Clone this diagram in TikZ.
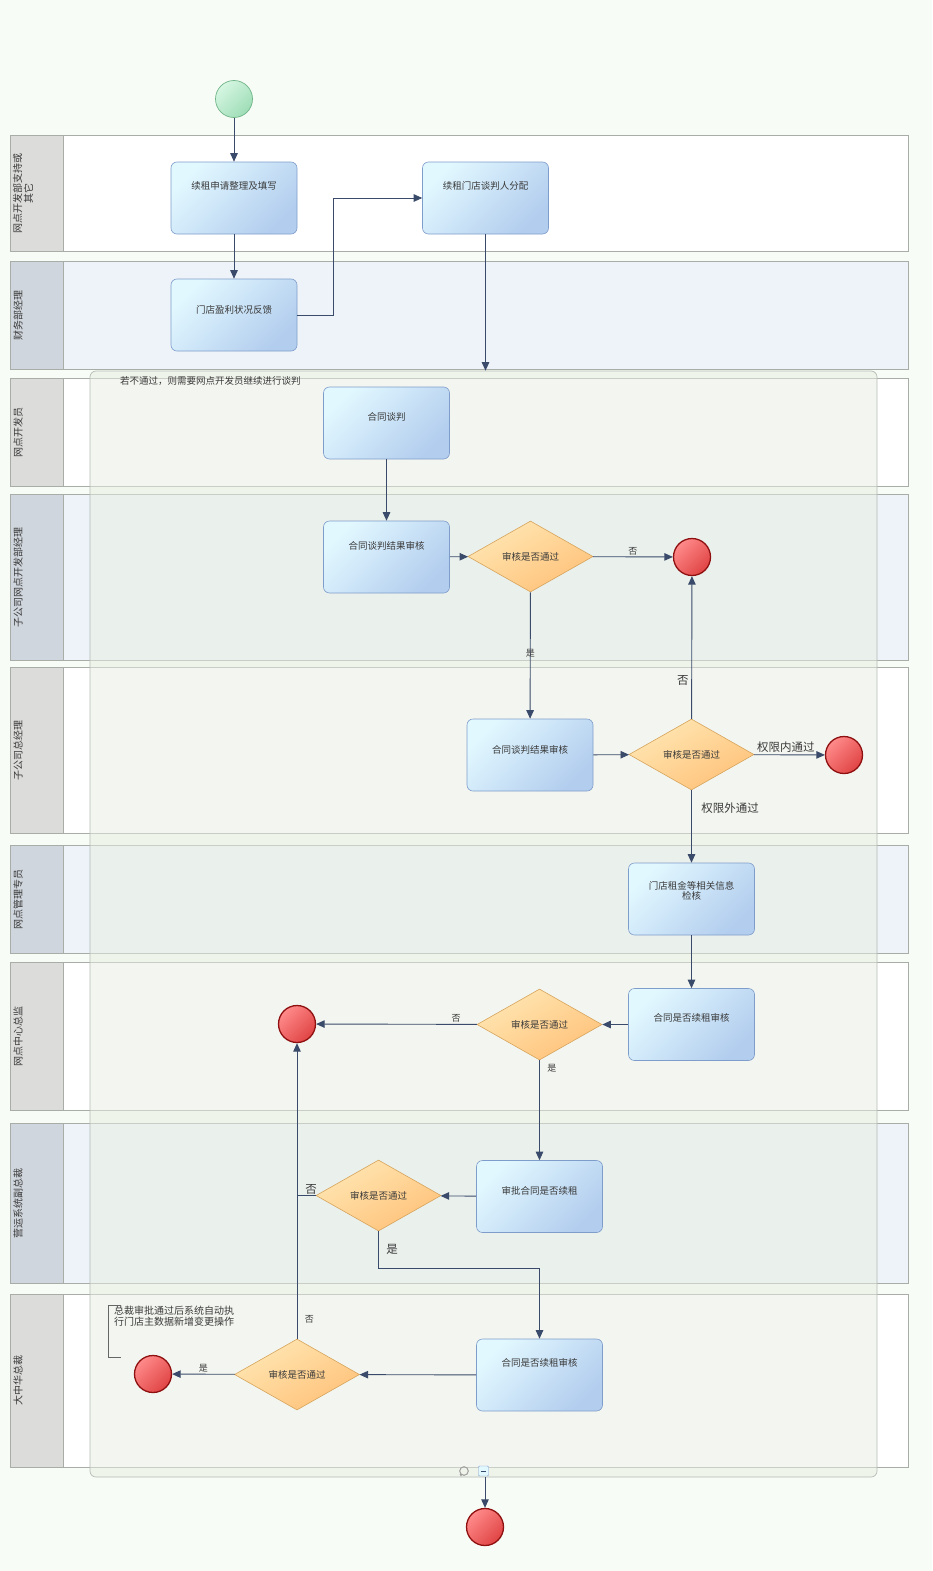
\documentclass[tikz,border=0pt]{standalone}
\usepackage{fontspec}
\setmainfont{Noto Sans CJK SC}
\usetikzlibrary{shapes.geometric,arrows.meta}
\definecolor{bg}{HTML}{F8FCF6}
\definecolor{hgray}{HTML}{DCDDDB}
\definecolor{hblue}{HTML}{D0D6DD}
\definecolor{bwhite}{HTML}{FFFFFF}
\definecolor{bblue}{HTML}{EDF3F8}
\definecolor{laneline}{HTML}{A9ADA8}
\definecolor{grpfill}{HTML}{E8EEE2}
\definecolor{grpline}{HTML}{B4BCB4}
\definecolor{boxa}{HTML}{E2F8FF}
\definecolor{boxb}{HTML}{B2CDEE}
\definecolor{boxline}{HTML}{7F9DCB}
\definecolor{dia}{HTML}{FFE6B2}
\definecolor{dib}{HTML}{FFC27A}
\definecolor{diline}{HTML}{D6A45C}
\definecolor{sta}{HTML}{D6F6E2}
\definecolor{stb}{HTML}{9EDDB6}
\definecolor{stline}{HTML}{6FB487}
\definecolor{ena}{HTML}{FF8A8A}
\definecolor{enb}{HTML}{E04444}
\definecolor{enline}{HTML}{8E1010}
\definecolor{edge}{HTML}{3A4A6A}
\definecolor{txt}{HTML}{3A3A3A}
\newcommand\flowbox[4]{%
  \node[box] (#1) at (#2) {};
  \node[btxt] (#1t) at ([yshift=-#3pt]#1.north) {#4};}
\begin{document}
\begin{tikzpicture}[x=1pt,y=-1pt,
  lanelbl/.style={rotate=90,text=txt,font=\fontsize{10}{11}\selectfont,align=center,inner sep=0},
  box/.style={rectangle,rounded corners=6pt,minimum width=126pt,minimum height=72pt,inner sep=0,
     draw=boxline,line width=0.6pt,top color=boxa,bottom color=boxb,shading angle=45},
  btxt/.style={text=txt,font=\fontsize{9.5}{10}\selectfont,align=center,inner sep=0},
  dec/.style={diamond,minimum width=125pt,minimum height=71pt,inner sep=0,draw=diline,line width=0.6pt,
     top color=dia,bottom color=dib,shading angle=30,text=txt,font=\fontsize{9.5}{10}\selectfont},
  startc/.style={circle,minimum size=37pt,inner sep=0,draw=stline,line width=0.7pt,top color=sta,bottom color=stb,shading angle=45},
  endc/.style={circle,minimum size=37pt,inner sep=0,draw=enline,line width=1.3pt,top color=ena,bottom color=enb,shading angle=45},
  arr/.style={draw=edge,line width=0.9pt,-{Triangle[length=8.5pt,width=7.5pt]}},
  ln/.style={draw=edge,line width=0.9pt},
  sl/.style={text=txt,font=\fontsize{9}{10}\selectfont,inner sep=1.5pt},
  bl/.style={text=txt,font=\fontsize{11.5}{12}\selectfont,inner sep=1.5pt},
  grp/.style={rectangle,rounded corners=6pt,draw=grpline,line width=0.7pt,fill=grpfill,fill opacity=0.5,inner sep=0}
]
\useasboundingbox[fill=bg] (0,0) rectangle (932,1571);
% lanes
\foreach \ya/\yb/\t/\hc/\bc/\lx [count=\i] in {
  135/251/{网点开发部支持或\\其它}/hgray/bwhite/23,
  261/369/{财务部经理}/hblue/bblue/18,
  378/486/{网点开发员}/hgray/bwhite/18,
  494/660/{子公司网点开发部经理}/hblue/bblue/18,
  667/833/{子公司总经理}/hgray/bwhite/18,
  845/953/{网点管理专员}/hblue/bblue/18,
  962/1110/{网点中心总监}/hgray/bwhite/18,
  1123/1283/{营运系统副总裁}/hblue/bblue/18,
  1294/1467/{大中华总裁}/hgray/bwhite/18}{
  \fill[\bc] (63,\ya) rectangle (908,\yb);
  \fill[\hc] (10,\ya) rectangle (63,\yb);
  \draw[laneline,line width=0.6pt] (10,\ya) rectangle (908,\yb);
  \draw[laneline,line width=0.6pt] (63,\ya) -- (63,\yb);
  \node[lanelbl] (L\i) at (\lx,{(\ya+\yb)/2}) {\t};
}
% group container
\node[grp,minimum width=787pt,minimum height=1106pt] (grp) at (483.5,924) {};
\node[text=txt,font=\fontsize{9.5}{10}\selectfont,anchor=west,inner sep=0] (note1) at (120,381) {若不通过，则需要网点开发员继续进行谈判};
% container icons
\draw[gray!75,line width=1pt] (464,1471) circle (4.3);
\fill[gray!75] (459.5,1474) -- (462.5,1474) -- (461,1476.5) -- cycle;
\draw[draw=boxline,fill=boxa,rounded corners=1pt] (478.5,1466) rectangle (488.5,1476);
\draw[edge,line width=1pt] (481,1471) -- (486,1471);
% nodes
\node[startc] (S) at (234,99) {};
\flowbox{A}{234,198}{24}{续租申请整理及填写}
\flowbox{B}{234,315}{31}{门店盈利状况反馈}
\flowbox{C}{485.5,198}{24}{续租门店谈判人分配}
\flowbox{D}{386.5,423}{30}{合同谈判}
\flowbox{E}{386.5,557}{25}{合同谈判结果审核}
\node[dec] (F1) at (530.5,556.5) {审核是否通过};
\node[endc] (G1) at (692,557) {};
\flowbox{H}{530,755}{31}{合同谈判结果审核}
\node[dec] (F2) at (691.5,754.5) {审核是否通过};
\node[endc] (G2) at (844,755) {};
\node[box] (I) at (691.5,899) {};
\node[btxt,anchor=north,font=\fontsize{9.5}{9.5}\selectfont] (It) at ([yshift=-19pt]I.north) {门店租金等相关信息\\检核};
\flowbox{J}{691.5,1024.5}{30}{合同是否续租审核}
\node[dec] (F3) at (539.5,1024.5) {审核是否通过};
\node[endc] (G3) at (297,1024) {};
\flowbox{K}{539.5,1196.5}{31}{审批合同是否续租}
\node[dec] (F4) at (378.5,1195.5) {审核是否通过};
\flowbox{M}{539.5,1375}{24}{合同是否续租审核}
\node[dec] (F5) at (297,1374.5) {审核是否通过};
\node[endc] (G4) at (153,1374) {};
\node[endc] (G5) at (485,1527) {};
% annotation
\node[text=txt,font=\fontsize{10}{11}\selectfont,align=left,anchor=north west,inner sep=0] (note2) at (114,1305.5) {总裁审批通过后系统自动执\\行门店主数据新增变更操作};
\draw[gray!80!black,line width=0.6pt] (121,1305) -- (108,1305) -- (108,1357) -- (121,1357);
% edges
\draw[arr] (S) -- (A);
\draw[arr] (A) -- (B);
\draw[arr] (B.east) -- ++(36,0) |- (C.west);
\draw[arr] (C) -- (C |- grp.north);
\draw[arr] (D) -- (E);
\draw[arr] (E) -- (F1);
\draw[arr] (F1) -- node[sl,above,pos=0.5]{否} (G1);
\draw[arr] (F1) -- node[sl,pos=0.48]{是} (H);
\draw[arr] (H) -- (F2);
\draw[arr] (F2) -- node[bl,left,pos=0.27,xshift=-1pt]{否} (G1);
\draw[arr] (F2) -- node[bl,above,pos=0.45]{权限内通过} (G2);
\draw[arr] (F2) -- node[bl,right,pos=0.25,xshift=8pt]{权限外通过} (I);
\draw[arr] (I) -- (J);
\draw[arr] (J) -- (F3);
\draw[arr] (F3) -- node[sl,above,pos=0.13]{否} (G3);
\draw[arr] (F3) -- node[sl,right,pos=0.08,xshift=6pt]{是} (K);
\draw[arr] (K) -- (F4);
\draw[ln] (F4.west) -- node[bl,above,pos=0.25,yshift=-1pt]{否} (F4.west -| G3);
\draw[arr] (F4.south) -- node[bl,right,midway,xshift=6pt]{是} ++(0,37) -| (M.north);
\draw[arr] (M) -- (F5);
\draw[arr] (F5) -- node[sl,above,midway]{是} (G4);
\draw[arr] (F5) -- node[sl,right,pos=0.065,xshift=6pt]{否} (G3);
\draw[arr] (G5 |- grp.south) -- (G5);
\end{tikzpicture}
\end{document}
